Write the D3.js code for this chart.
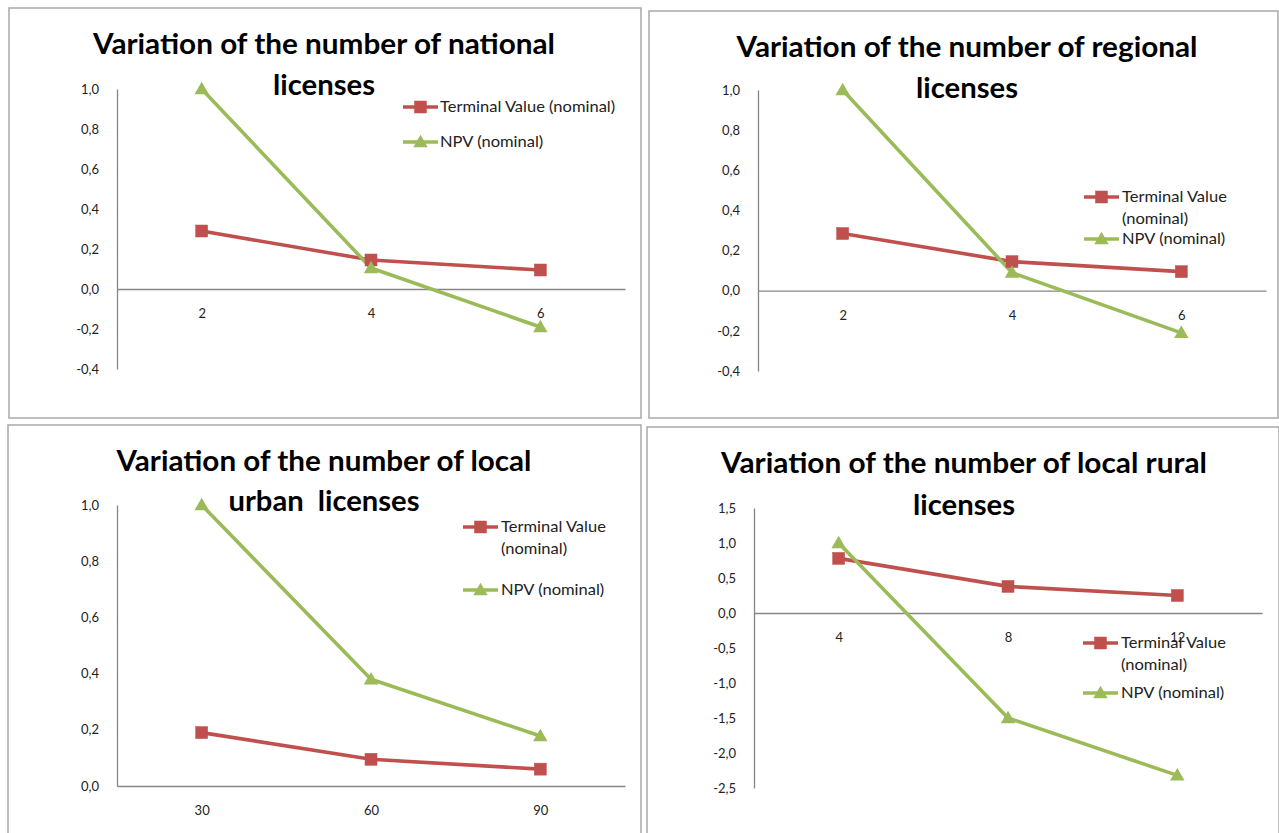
<!DOCTYPE html>
<html>
<head>
<meta charset="utf-8">
<script src="https://cdn.jsdelivr.net/npm/d3@7"></script>
<style>
  html, body { margin: 0; padding: 0; background: #fff; }
  svg { display: block; }
  text { font-family: Lato, "Open Sans", "DejaVu Sans", sans-serif; white-space: pre; }
</style>
</head>
<body>
<svg id="chart" width="1279" height="833"></svg>
<script>
// ---------------- DATA ----------------
const seriesNames = ["Terminal Value (nominal)", "NPV (nominal)"];

const titles1 = ["Variation of the number of national", "licenses"];
const cats1 = ["2", "4", "6"];
const tv1 = [0.29, 0.145, 0.095];
const npv1 = [1.0, 0.105, -0.19];
const yTicks1 = [-0.4, -0.2, 0.0, 0.2, 0.4, 0.6, 0.8, 1.0];
const legend1 = [["Terminal Value (nominal)"], ["NPV (nominal)"]];

const titles2 = ["Variation of the number of regional", "licenses"];
const cats2 = ["2", "4", "6"];
const tv2 = [0.285, 0.145, 0.095];
const npv2 = [1.0, 0.09, -0.21];
const yTicks2 = [-0.4, -0.2, 0.0, 0.2, 0.4, 0.6, 0.8, 1.0];
const legend2 = [["Terminal Value", "(nominal)"], ["NPV (nominal)"]];

const titles3 = ["Variation of the number of local", "urban  licenses"];
const cats3 = ["30", "60", "90"];
const tv3 = [0.19, 0.095, 0.06];
const npv3 = [1.0, 0.38, 0.178];
const yTicks3 = [0.0, 0.2, 0.4, 0.6, 0.8, 1.0];
const legend3 = [["Terminal Value", "(nominal)"], ["NPV (nominal)"]];

const titles4 = ["Variation of the number of local rural", "licenses"];
const cats4 = ["4", "8", "12"];
const tv4 = [0.78, 0.38, 0.25];
const npv4 = [1.0, -1.5, -2.32];
const yTicks4 = [-2.5, -2.0, -1.5, -1.0, -0.5, 0.0, 0.5, 1.0, 1.5];
const legend4 = [["Terminal Value", "(nominal)"], ["NPV (nominal)"]];

// ---------------- LAYOUT / STYLE ----------------
const colors = ["#C0504D", "#9BBB59"];
const locale = d3.formatLocale({decimal: ",", thousands: ".", grouping: [3], currency: ["", ""], minus: "-"});
const fmt = locale.format(".1f");

const panels = [
  { titles: titles1, cats: cats1, series: [tv1, npv1], ticks: yTicks1, legend: legend1,
    border: [9, 8, 632, 410], x0: 117, x1: 625, yTop: 89, yBot: 369,
    titleX: 324, titleY: [54, 95], titleW: [462, 102],
    legX: 403, legTextX: 440, legY: [[107], [142]] },
  { titles: titles2, cats: cats2, series: [tv2, npv2], ticks: yTicks2, legend: legend2,
    border: [649, 11, 629, 407], x0: 758, x1: 1266, yTop: 90, yBot: 371,
    titleX: 967, titleY: [57, 98], titleW: [461, 102],
    legX: 1084, legTextX: 1122, legY: [[197, 219], [239]] },
  { titles: titles3, cats: cats3, series: [tv3, npv3], ticks: yTicks3, legend: legend3,
    border: [8, 425, 633, 412], x0: 117, x1: 625, yTop: 505, yBot: 786,
    titleX: 324, titleY: [471, 511], titleW: [415, 191],
    legX: 463, legTextX: 501, legY: [[527, 549], [590]] },
  { titles: titles4, cats: cats4, series: [tv4, npv4], ticks: yTicks4, legend: legend4,
    border: [647, 427, 632, 410], x0: 754, x1: 1262, yTop: 508, yBot: 788,
    titleX: 964, titleY: [473, 515], titleW: [486, 102],
    legX: 1083, legTextX: 1121, legY: [[643, 665], [693]] }
];

const svg = d3.select("#chart");

function drawMarker(g, i, cx, cy) {
  if (i === 0) {
    g.append("rect").attr("x", cx - 6).attr("y", cy - 6).attr("width", 12).attr("height", 12)
      .attr("fill", colors[0]).attr("stroke", colors[0]).attr("stroke-width", 0.5);
  } else {
    g.append("path").attr("d", d3.symbol(d3.symbolTriangle, 90)())
      .attr("transform", `translate(${cx},${cy + 1})`)
      .attr("fill", colors[1]);
  }
}

panels.forEach(p => {
  const g = svg.append("g");
  g.append("rect").attr("x", p.border[0]).attr("y", p.border[1])
    .attr("width", p.border[2]).attr("height", p.border[3])
    .attr("fill", "#fff").attr("stroke", "#a9a9a9").attr("stroke-width", 1.5);

  const ticks = p.ticks;
  const y = d3.scaleLinear().domain([ticks[0], ticks[ticks.length - 1]]).range([p.yBot, p.yTop]);
  const x = d3.scalePoint().domain(p.cats).range([p.x0, p.x1]).padding(0.5);

  const ya = g.append("g").attr("transform", `translate(${p.x0},0)`)
    .call(d3.axisLeft(y).tickValues(ticks).tickSize(0).tickSizeOuter(0).tickPadding(18).tickFormat(fmt));
  ya.select(".domain").attr("stroke", "#868686").attr("stroke-width", 1.3);
  ya.selectAll("text").attr("font-size", 13).attr("fill", "#222").style("font-family", "Lato, sans-serif");

  const xa = g.append("g").attr("transform", `translate(0,${y(0)})`)
    .call(d3.axisBottom(x).tickSize(0).tickSizeOuter(0).tickPadding(20));
  xa.select(".domain").attr("stroke", "#868686").attr("stroke-width", 1.3);
  xa.selectAll("text").attr("font-size", 13).attr("fill", "#222").style("font-family", "Lato, sans-serif");

  p.series.forEach((vals, si) => {
    const pts = p.cats.map((c, k) => [x(c), y(vals[k])]);
    g.append("path").attr("d", d3.line()(pts))
      .attr("fill", "none").attr("stroke", colors[si]).attr("stroke-width", 3.6)
      .attr("stroke-linejoin", "round");
  });
  p.series.forEach((vals, si) => {
    p.cats.forEach((c, k) => drawMarker(g, si, x(c), y(vals[k])));
  });

  p.titles.forEach((t, li) => {
    g.append("text").attr("x", p.titleX).attr("y", p.titleY[li])
      .attr("text-anchor", "middle").attr("font-size", 29).attr("font-weight", "bold")
      .attr("fill", "#000")
      .attr("textLength", p.titleW[li]).attr("lengthAdjust", "spacingAndGlyphs")
      .text(t);
  });

  p.legend.forEach((lines, si) => {
    const ly = p.legY[si][0];
    g.append("line").attr("x1", p.legX).attr("x2", p.legX + 35).attr("y1", ly).attr("y2", ly)
      .attr("stroke", colors[si]).attr("stroke-width", 3.6);
    drawMarker(g, si, p.legX + 17.5, ly);
    lines.forEach((ln, li) => {
      const t = g.append("text").attr("x", p.legTextX).attr("y", p.legY[si][li])
        .attr("dy", "0.35em").attr("font-size", 15).attr("fill", "#222")
        .text(ln);
      const w = t.node().getComputedTextLength();
      t.attr("textLength", w * 1.1).attr("lengthAdjust", "spacingAndGlyphs");
    });
  });
});
</script>
</body>
</html>
